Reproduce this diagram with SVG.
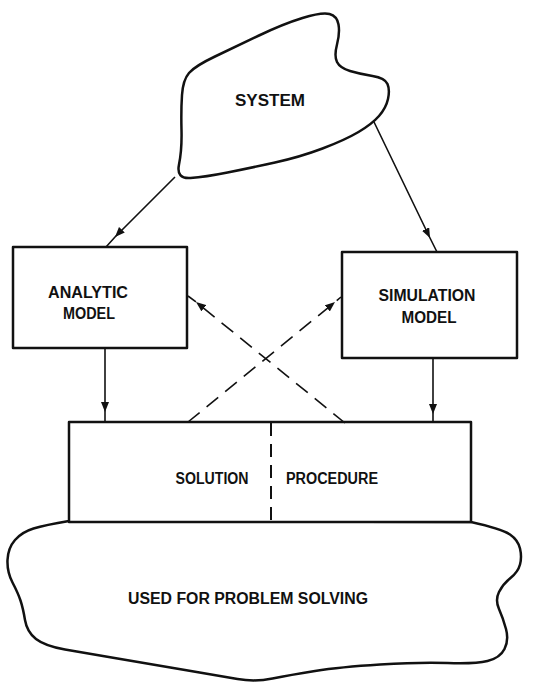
<svg xmlns="http://www.w3.org/2000/svg" width="542" height="683" viewBox="0 0 542 683">
<style>
.shape{fill:#fff;stroke:#111;stroke-width:2.5;stroke-linejoin:round}
.conn{fill:none;stroke:#111;stroke-width:1.6}
.dash{stroke-dasharray:15 9}
.div{fill:none;stroke:#111;stroke-width:2;stroke-dasharray:13 8}
text{font-family:"Liberation Sans",Arial,sans-serif;font-weight:bold;fill:#111;text-anchor:middle;font-size:16px}
</style>
<defs>
<marker id="arr" markerUnits="userSpaceOnUse" markerWidth="11" markerHeight="8" refX="10" refY="4" orient="auto">
<path d="M0,0 L10,4 L0,8 Z" fill="#111"/>
</marker>
</defs>
<rect width="542" height="683" fill="#fff"/>
<g id="system">
<path class="shape" d="M190.5,178 Q176,179 179,164.5 Q182,150 181.5,130 Q181,110 182,95 Q183,80 189,73 Q195,66 215,56.5 Q235,47 259,35.5 Q283,24 302.5,18 Q322,12 329.5,14 Q337,16 338.5,24.5 Q340,33 337,44.5 Q334,56 337,62 Q340,68 350,71 Q360,74 372.5,76 Q385,78 387.5,84 Q390,90 388,99 Q386,108 379,116 Q372,124 358.5,132 Q345,140 322.5,148.5 Q300,157 275,162.5 Q250,168 227.5,172.5 Q205,177 190.5,178 Z"/>
<text x="270" y="106" textLength="70" lengthAdjust="spacingAndGlyphs">SYSTEM</text>
</g>
<g id="analytic">
<rect class="shape" x="13" y="247" width="174" height="101"/>
<text x="88" y="298" textLength="80" lengthAdjust="spacingAndGlyphs">ANALYTIC</text>
<text x="89" y="319" textLength="52" lengthAdjust="spacingAndGlyphs">MODEL</text>
</g>
<g id="simulation">
<rect class="shape" x="342" y="252" width="175" height="106"/>
<text x="427" y="301" textLength="97" lengthAdjust="spacingAndGlyphs">SIMULATION</text>
<text x="429" y="323" textLength="55" lengthAdjust="spacingAndGlyphs">MODEL</text>
</g>
<g id="problem-solving">
<path class="shape" d="M471,522 Q502,529 510,534.5 Q518,540 520,548.5 Q522,557 520,564.5 Q518,572 510.5,578 Q503,584 499,592 Q495,600 499,609 Q503,618 506,629 Q509,640 504.5,649 Q500,658 487.5,661 Q475,664 447.5,663 Q420,662 380,664.5 Q340,667 315,671 Q290,675 272.5,678.5 Q255,682 237.5,679 Q220,676 185,670 Q150,664 117.5,658.5 Q85,653 65,649.5 Q45,646 36,639 Q27,632 25,620 Q23,608 20.5,600.5 Q18,593 12.5,582.5 Q7,572 7.5,560 Q8,548 15,540 Q22,532 33.5,528.5 Q45,525 69,521 Z"/>
<text x="248" y="604" textLength="240" lengthAdjust="spacingAndGlyphs">USED FOR PROBLEM SOLVING</text>
</g>
<g id="solution-procedure">
<rect class="shape" x="69" y="422" width="402" height="100"/>
<line class="div" x1="271" y1="423" x2="271" y2="521"/>
<text x="212" y="484" textLength="73" lengthAdjust="spacingAndGlyphs">SOLUTION</text>
<text x="332" y="484" textLength="92" lengthAdjust="spacingAndGlyphs">PROCEDURE</text>
</g>
<g id="connectors">
<polyline class="conn" points="175,177 115,237 106,247" marker-mid="url(#arr)"/>
<polyline class="conn" points="374,122 430,238 437,252" marker-mid="url(#arr)"/>
<polyline class="conn" points="105,348 105,412 105,422" marker-mid="url(#arr)"/>
<polyline class="conn" points="433,358 433,414 433,422" marker-mid="url(#arr)"/>
<polyline class="conn dash" points="188,422 335,302 341,297" marker-mid="url(#arr)"/>
<polyline class="conn dash" points="345,423 196,302 188,296" marker-mid="url(#arr)"/>
</g>
</svg>
